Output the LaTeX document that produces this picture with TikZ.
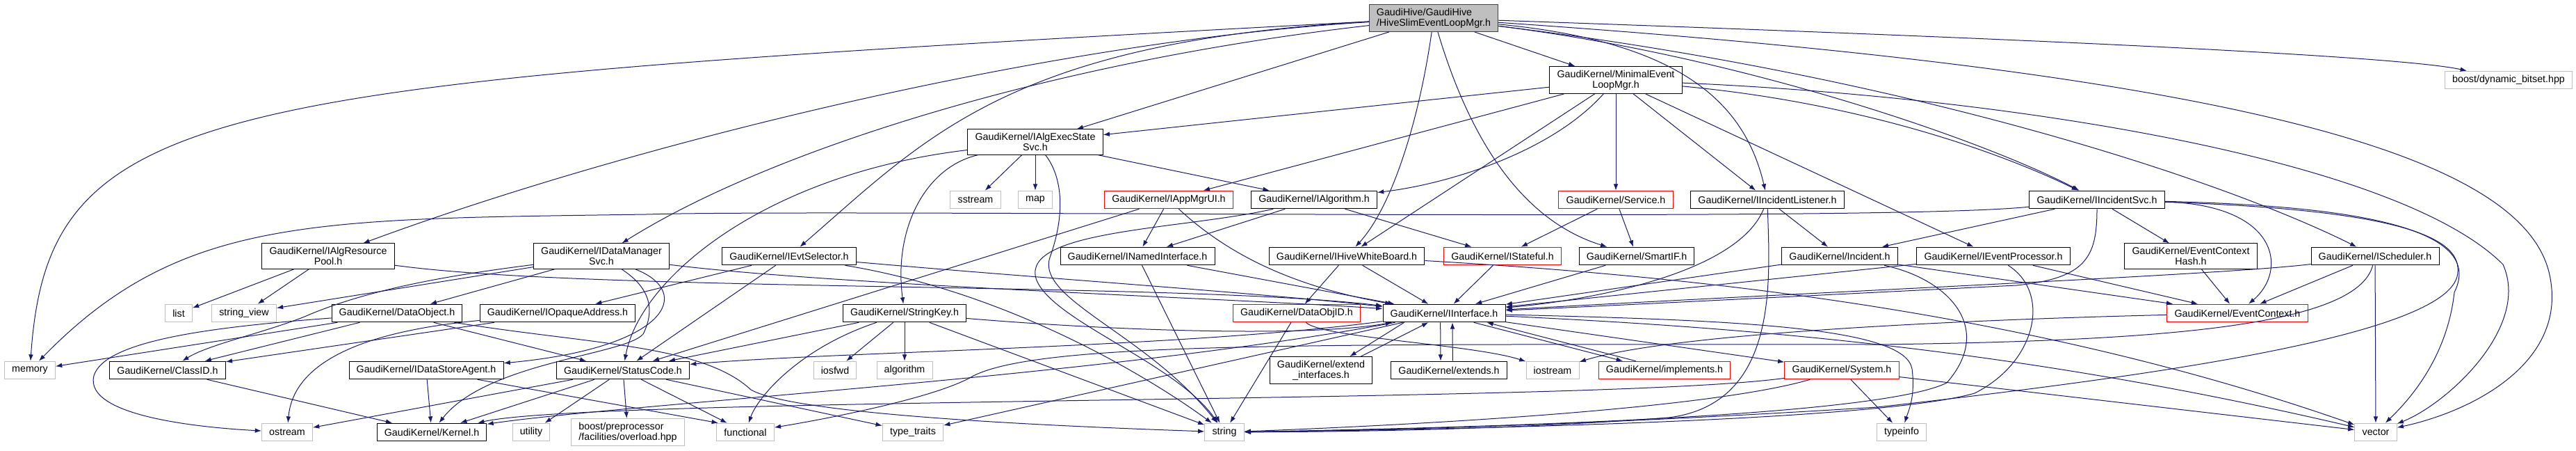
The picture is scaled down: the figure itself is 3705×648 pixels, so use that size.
\documentclass[tikz,border=0pt]{standalone}
\usepackage{fontspec}
\setmainfont{Liberation Sans}
\usepackage{tikz}
\usetikzlibrary{arrows.meta}
\definecolor{edgeblue}{HTML}{191970}
\definecolor{sysgrey}{HTML}{BFBFBF}
\definecolor{mainfill}{HTML}{BFBFBF}
\newcommand{\graphfont}{\fontsize{10.7pt}{11.2pt}\selectfont}
\tikzstyle{header} = [rectangle, draw=black, line width=0.75pt, fill=white, text=black, align=center, inner xsep=8pt, inner ysep=4pt, minimum height=19.2pt, font=\graphfont]
\tikzstyle{sysheader} = [header, draw=sysgrey]
\tikzstyle{truncated} = [header, draw=red]
\tikzstyle{mainfile} = [header, fill=mainfill, draw=black!75]
\tikzstyle{arrow} = [draw=edgeblue, line width=0.75pt, -{Latex[length=7pt,width=5pt]}]

\begin{document}
\begin{tikzpicture}[x=0.75pt, y=-0.75pt]
		\path [use as bounding box, fill=white] (0,0) rectangle (3705,648);

		\node (hive) [mainfile, align=left] at (2062,26) {GaudiHive/GaudiHive\\/HiveSlimEventLoopMgr.h};
		\node (minimal) [header] at (2324,115) {GaudiKernel/MinimalEvent\\LoopMgr.h};
		\node (bitset) [sysheader] at (3608,115) {boost/dynamic\_bitset.hpp};
		\node (execstate) [header] at (1489,204) {GaudiKernel/IAlgExecState\\Svc.h};
		\node (sstream) [sysheader] at (1403,287) {sstream};
		\node (map) [sysheader] at (1489,287) {map};
		\node (appmgrui) [truncated] at (1681,287) {GaudiKernel/IAppMgrUI.h};
		\node (ialgorithm) [header] at (1890,287) {GaudiKernel/IAlgorithm.h};
		\node (service) [truncated] at (2324,287) {GaudiKernel/Service.h};
		\node (inclistener) [header] at (2542,287) {GaudiKernel/IIncidentListener.h};
		\node (incsvc) [header] at (3016,287) {GaudiKernel/IIncidentSvc.h};
		\node (algres) [header] at (472,368) {GaudiKernel/IAlgResource\\Pool.h};
		\node (datamgr) [header] at (865,368) {GaudiKernel/IDataManager\\Svc.h};
		\node (evtsel) [header] at (1135,368) {GaudiKernel/IEvtSelector.h};
		\node (namedif) [header] at (1636,368) {GaudiKernel/INamedInterface.h};
		\node (whiteboard) [header] at (1937,368) {GaudiKernel/IHiveWhiteBoard.h};
		\node (stateful) [truncated] at (2161,368) {GaudiKernel/IStateful.h};
		\node (smartif) [header] at (2354,368) {GaudiKernel/SmartIF.h};
		\node (incident) [header] at (2646,368) {GaudiKernel/Incident.h};
		\node (evtproc) [header] at (2867,368) {GaudiKernel/IEventProcessor.h};
		\node (ctxhash) [header] at (3151,368) {GaudiKernel/EventContext\\Hash.h};
		\node (scheduler) [header] at (3416,368) {GaudiKernel/IScheduler.h};
		\node (list) [sysheader] at (257,450) {list};
		\node (stringview) [sysheader] at (351,450) {string\_view};
		\node (dataobject) [header] at (571,450) {GaudiKernel/DataObject.h};
		\node (opaqueaddr) [header] at (802,450) {GaudiKernel/IOpaqueAddress.h};
		\node (stringkey) [header] at (1301,450) {GaudiKernel/StringKey.h};
		\node (dataobjid) [truncated] at (1865,450) {GaudiKernel/DataObjID.h};
		\node (iinterface) [header] at (2077,450) {GaudiKernel/IInterface.h};
		\node (evtcontext) [truncated] at (3218,450) {GaudiKernel/EventContext.h};
		\node (memory) [sysheader] at (43,532) {memory};
		\node (classid) [header] at (241,532) {GaudiKernel/ClassID.h};
		\node (storeagent) [header] at (613,532) {GaudiKernel/IDataStoreAgent.h};
		\node (statuscode) [header] at (896,532) {GaudiKernel/StatusCode.h};
		\node (iosfwd) [sysheader] at (1201,532) {iosfwd};
		\node (algorithm) [sysheader] at (1301,532) {algorithm};
		\node (extendif) [header] at (1900,532) {GaudiKernel/extend\\\_interfaces.h};
		\node (extends) [header] at (2084,532) {GaudiKernel/extends.h};
		\node (iostream) [sysheader] at (2233,532) {iostream};
		\node (implements) [truncated] at (2394,532) {GaudiKernel/implements.h};
		\node (system) [truncated] at (2649,532) {GaudiKernel/System.h};
		\node (ostream) [sysheader] at (413,621) {ostream};
		\node (kernel) [header] at (621,621) {GaudiKernel/Kernel.h};
		\node (utility) [sysheader] at (764,621) {utility};
		\node (boostpp) [sysheader, align=left] at (903,621) {boost/preprocessor\\/facilities/overload.hpp};
		\node (functional) [sysheader] at (1072,621) {functional};
		\node (typetraits) [sysheader] at (1313,621) {type\_traits};
		\node (string) [sysheader] at (1761,621) {string};
		\node (typeinfo) [sysheader] at (2735,621) {typeinfo};
		\node (vector) [sysheader] at (3417,621) {vector};


		\draw [arrow] (hive) .. controls (300,120) and (70,140) .. (memory);
		\draw [arrow] (hive) .. controls (1500,60) and (900,210) .. (algres);
		\draw [arrow] (hive) .. controls (1500,90) and (1100,220) .. (datamgr);
		\draw [arrow] (hive) .. controls (1450,60) and (1330,200) .. (evtsel);
		\draw [arrow] (hive) -- (execstate);
		\draw [arrow] (hive) -- (minimal);
		\draw [arrow] (hive) .. controls (2040,180) and (2000,300) .. (whiteboard);
		\draw [arrow] (hive) .. controls (2120,220) and (2200,320) .. (smartif);
		\draw [arrow] (hive) .. controls (2420,60) and (2510,150) .. (inclistener);
		\draw [arrow] (hive) .. controls (2500,80) and (2850,200) .. (incsvc);
		\draw [arrow] (hive) .. controls (2750,110) and (3200,260) .. (scheduler);
		\draw [arrow] (hive) .. controls (2900,55) and (3450,80) .. (bitset);
		\draw [arrow] (hive) .. controls (3300,110) and (3640,240) .. (3668,400) .. controls (3690,520) and (3560,590) .. (vector);

		\draw [arrow] (minimal) -- (execstate);
		\draw [arrow] (minimal) -- (appmgrui);
		\draw [arrow] (minimal) .. controls (2230,220) and (2080,265) .. (ialgorithm);
		\draw [arrow] (minimal) -- (whiteboard);
		\draw [arrow] (minimal) -- (service);
		\draw [arrow] (minimal) -- (inclistener);
		\draw [arrow] (minimal) -- (evtproc);
		\draw [arrow] (minimal) .. controls (2700,150) and (2900,230) .. (incsvc);
		\draw [arrow] (minimal) .. controls (2900,140) and (3450,230) .. (3600,380) .. controls (3640,470) and (3520,580) .. (vector);

		\draw [arrow] (execstate) -- (sstream);
		\draw [arrow] (execstate) -- (map);
		\draw [arrow] (execstate) -- (ialgorithm);
		\draw [arrow] (execstate) .. controls (1330,240) and (1285,330) .. (stringkey);
		\draw [arrow] (execstate) .. controls (1100,250) and (920,400) .. (statuscode);
		\draw [arrow] (execstate) .. controls (1525,250) and (1535,300) .. (1510,370) .. controls (1490,430) and (1650,480) .. (string);

		\draw [arrow] (appmgrui) -- (namedif);
		\draw [arrow] (appmgrui) -- (statuscode);
		\draw [arrow] (appmgrui) .. controls (1760,360) and (1850,410) .. (iinterface);

		\draw [arrow] (ialgorithm) -- (namedif);
		\draw [arrow] (ialgorithm) -- (stateful);
		\draw [arrow] (ialgorithm) .. controls (1700,330) and (1470,330) .. (1490,400) .. controls (1510,460) and (1690,520) .. (string);

		\draw [arrow] (service) -- (stateful);
		\draw [arrow] (service) -- (smartif);

		\draw [arrow] (inclistener) -- (incident);
		\draw [arrow] (inclistener) .. controls (2500,390) and (2300,430) .. (iinterface);
		\draw [arrow] (inclistener) .. controls (2545,400) and (2560,580) .. (2400,600) .. controls (2200,615) and (2000,620) .. (string);

		\draw [arrow] (incsvc) -- (incident);
		\draw [arrow] (incsvc) -- (ctxhash);
		\draw [arrow] (incsvc) .. controls (3280,295) and (3290,390) .. (evtcontext);
		\draw [arrow] (incsvc) .. controls (3016,370) and (3000,400) .. (2900,410) .. controls (2600,425) and (2300,440) .. (iinterface);
		\draw [arrow] (incsvc) .. controls (2700,320) and (1200,300) .. (930,308) .. controls (450,315) and (260,310) .. (memory);
		\draw [arrow] (incsvc) .. controls (3350,295) and (3580,320) .. (3530,420) .. controls (3520,510) and (3470,570) .. (vector);
		\draw [arrow] (incsvc) .. controls (3400,300) and (3540,330) .. (3535,390) .. controls (3535,480) and (3100,540) .. (2700,585) .. controls (2300,610) and (2000,618) .. (string);

		\draw [arrow] (whiteboard) -- (dataobjid);
		\draw [arrow] (whiteboard) -- (iinterface);
		\draw [arrow] (whiteboard) .. controls (2400,395) and (2900,440) .. (vector);
		\draw [arrow] (stateful) -- (iinterface);
		\draw [arrow] (smartif) -- (iinterface);
		\draw [arrow] (incident) -- (iinterface);
		\draw [arrow] (incident) -- (evtcontext);
		\draw [arrow] (incident) .. controls (2800,400) and (2870,470) .. (2800,550) .. controls (2700,600) and (2100,615) .. (string);
		\draw [arrow] (evtproc) -- (evtcontext);
		\draw [arrow] (evtproc) -- (iinterface);
		\draw [arrow] (evtproc) .. controls (2950,420) and (2930,520) .. (2840,565) .. controls (2700,605) and (2100,617) .. (string);
		\draw [arrow] (ctxhash) -- (evtcontext);
		\draw [arrow] (scheduler) -- (evtcontext);
		\draw [arrow] (scheduler) -- (vector);
		\draw [arrow] (scheduler) .. controls (3200,395) and (2600,420) .. (iinterface);
		\draw [arrow] (scheduler) .. controls (3390,470) and (3100,490) .. (2700,495) .. controls (1900,495) and (1500,490) .. (1400,540) .. controls (1350,570) and (1200,600) .. (functional);
		\draw [arrow] (evtcontext) .. controls (2800,460) and (2400,480) .. (iostream);

		\draw [arrow] (algres) -- (list);
		\draw [arrow] (algres) -- (stringview);
		\draw [arrow] (algres) .. controls (850,420) and (1700,405) .. (iinterface);
		\draw [arrow] (datamgr) -- (stringview);
		\draw [arrow] (datamgr) .. controls (650,395) and (530,415) .. (438,455) .. controls (380,478) and (300,495) .. (classid);
		\draw [arrow] (datamgr) -- (dataobject);
		\draw [arrow] (datamgr) .. controls (1000,420) and (960,500) .. (storeagent);
		\draw [arrow] (datamgr) .. controls (930,410) and (945,440) .. (925,480) .. controls (900,510) and (700,520) .. (kernel);
		\draw [arrow] (datamgr) .. controls (1200,410) and (1800,430) .. (iinterface);
		\draw [arrow] (evtsel) -- (opaqueaddr);
		\draw [arrow] (evtsel) -- (statuscode);
		\draw [arrow] (evtsel) .. controls (1500,400) and (1800,420) .. (iinterface);
		\draw [arrow] (evtsel) .. controls (1450,420) and (1650,540) .. (string);
		\draw [arrow] (namedif) -- (string);
		\draw [arrow] (namedif) -- (iinterface);

		\draw [arrow] (dataobject) -- (memory);
		\draw [arrow] (dataobject) .. controls (300,470) and (150,490) .. (135,540) .. controls (120,600) and (300,615) .. (ostream);
		\draw [arrow] (dataobject) -- (classid);
		\draw [arrow] (dataobject) -- (statuscode);
		\draw [arrow] (dataobject) .. controls (850,495) and (1010,495) .. (1080,560) .. controls (1150,600) and (1600,615) .. (string);
		\draw [arrow] (opaqueaddr) -- (classid);
		\draw [arrow] (opaqueaddr) .. controls (480,480) and (420,540) .. (ostream);
		\draw [arrow] (stringkey) -- (iosfwd);
		\draw [arrow] (stringkey) -- (algorithm);
		\draw [arrow] (stringkey) -- (string);
		\draw [arrow] (stringkey) .. controls (1150,500) and (1090,570) .. (functional);
		\draw [arrow] (stringkey) -- (statuscode);
		\draw [arrow] (stringkey) .. controls (1600,475) and (1880,485) .. (iinterface);
		\draw [arrow] (dataobjid) -- (string);
		\draw [arrow] (dataobjid) .. controls (1900,485) and (2120,495) .. (iostream);

		\draw [arrow] (iinterface) .. controls (1600,540) and (900,580) .. (kernel);
		\draw [arrow] (iinterface) .. controls (1700,500) and (1200,505) .. (statuscode);
		\draw [arrow] (iinterface) -- (system);
		\draw [arrow] (iinterface) -- (typetraits);
		\draw [arrow] (iinterface) .. controls (2500,460) and (2740,470) .. (2750,530) .. controls (2755,570) and (2745,590) .. (typeinfo);
		\draw [arrow] (iinterface) .. controls (2500,470) and (2900,500) .. (vector);
		\draw [arrow] ([xshift=-43pt]iinterface.south) -- ([xshift=31pt]extendif.north);
		\draw [arrow] ([xshift=43pt]extendif.north) -- ([xshift=-17pt]iinterface.south);
		\draw [arrow] ([xshift=-4pt]iinterface.south) -- ([xshift=-9pt]extends.north);
		\draw [arrow] ([xshift=4pt]extends.north) -- ([xshift=9pt]iinterface.south);
		\draw [arrow] ([xshift=32pt]iinterface.south) -- ([xshift=-45pt]implements.north);
		\draw [arrow] ([xshift=-31pt]implements.north) -- ([xshift=46pt]iinterface.south);

		\draw [arrow] (system) -- (typeinfo);
		\draw [arrow] (system) -- (vector);
		\draw [arrow] (system) .. controls (2450,590) and (2000,612) .. (string);
		\draw [arrow] (system) .. controls (2300,580) and (850,570) .. ([xshift=-10pt]kernel.north east);

		\draw [arrow] (storeagent) -- (kernel);
		\draw [arrow] (storeagent) -- ([xshift=2pt]functional.north west);
		\draw [arrow] (statuscode) -- (ostream);
		\draw [arrow] (statuscode) -- (kernel);
		\draw [arrow] (statuscode) -- (utility);
		\draw [arrow] (statuscode) -- (boostpp);
		\draw [arrow] (statuscode) -- (functional);
		\draw [arrow] (statuscode) -- (typetraits);
		\draw [arrow] (classid) -- (kernel);
	\end{tikzpicture}
\end{document}
